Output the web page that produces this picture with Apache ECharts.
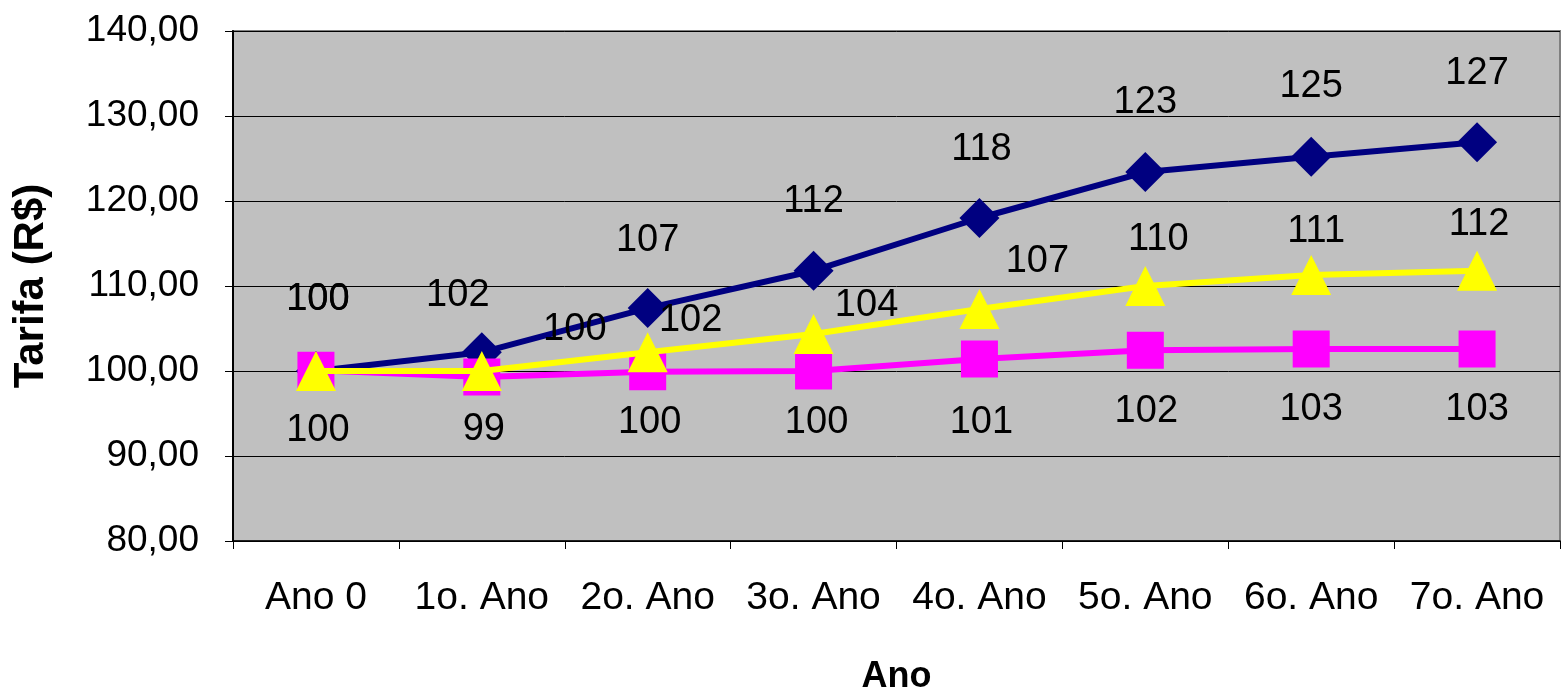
<!DOCTYPE html>
<html>
<head>
<meta charset="utf-8">
<script src="https://cdn.jsdelivr.net/npm/echarts@6/dist/echarts.min.js"></script>
<style>
html,body{margin:0;padding:0;background:#fff;}
#chart{width:1565px;height:693px;}
</style>
</head>
<body>
<div id="chart"></div>
<script>
const categories = ['Ano 0', '1o. Ano', '2o. Ano', '3o. Ano', '4o. Ano', '5o. Ano', '6o. Ano', '7o. Ano'];
const navyValues = [100, 102.2, 107.4, 111.8, 118.0, 123.4, 125.2, 126.9];
const magentaValues = [100.1, 99.3, 99.9, 100.0, 101.4, 102.45, 102.6, 102.6];
const yellowValues = [100, 100, 102.2, 104.35, 107.3, 110.0, 111.3, 111.8];
const yAxisMin = 80, yAxisMax = 140, yAxisInterval = 10;

// label placement (style only)
const navyOffsets = [[2,-71],[-24,-57],[0,-68],[0,-69],[2,-68],[0,-70],[0,-70],[0,-69]];
const yellowOffsets = [[2,-71],[93,-41],[43,-32],[53,-29],[58,-47],[13,-46],[5,-43],[2,-46]];
const magentaOffsets = [[2,60],[2,53],[2,51],[3,52],[2,63],[1,61],[0,61],[0,61]];

const FONT = '"Liberation Sans", Arial, sans-serif';

function series(name, values, offsets, color, symbol, size, z) {
  return {
    name: name,
    type: 'line',
    data: values,
    symbol: symbol,
    symbolSize: size,
    z: z,
    lineStyle: { color: color, width: 6 },
    itemStyle: { color: color },
    label: {
      show: true,
      position: 'inside',
      color: '#000',
      fontFamily: FONT,
      fontSize: 38,
      formatter: p => String(Math.round(p.value))
    },
    labelLayout: function (params) {
      const o = offsets[params.dataIndex];
      return { dx: o[0], dy: o[1], hideOverlap: false };
    },
    emphasis: { disabled: true },
    animation: false
  };
}

const chart = echarts.init(document.getElementById('chart'), null, { renderer: 'canvas' });
chart.setOption({
  backgroundColor: '#ffffff',
  animation: false,
  grid: {
    left: 233, right: 5, top: 31, bottom: 152,
    containLabel: false,
    outerBoundsMode: 'none',
    show: true,
    backgroundColor: '#C0C0C0',
    borderColor: '#808080',
    borderWidth: 2
  },
  xAxis: {
    type: 'category',
    data: categories,
    boundaryGap: true,
    name: 'Ano',
    nameLocation: 'middle',
    nameGap: 118,
    nameTextStyle: { fontFamily: FONT, fontSize: 36, fontWeight: 'bold', color: '#000' },
    axisLine: { show: true, lineStyle: { color: '#000', width: 1.5 } },
    axisTick: { show: true, length: 8, alignWithLabel: false, lineStyle: { color: '#000' } },
    axisLabel: { fontFamily: FONT, fontSize: 39, color: '#000', margin: 38, interval: 0 },
    splitLine: { show: false }
  },
  yAxis: {
    type: 'value',
    min: yAxisMin, max: yAxisMax, interval: yAxisInterval,
    name: 'Tarifa (R$)',
    nameLocation: 'middle',
    nameGap: 181,
    nameRotate: 90,
    nameTextStyle: { fontFamily: FONT, fontSize: 42, fontWeight: 'bold', color: '#000' },
    axisLine: { show: true, lineStyle: { color: '#000', width: 2 } },
    axisTick: { show: true, length: 8, lineStyle: { color: '#000' } },
    axisLabel: {
      fontFamily: FONT, fontSize: 37, color: '#000', margin: 34,
      formatter: v => v.toFixed(2).replace('.', ',')
    },
    splitLine: { show: true, lineStyle: { color: '#000', width: 1 } }
  },
  series: [
    series('Navy', navyValues, navyOffsets, '#000080', 'diamond', 40, 2),
    series('Magenta', magentaValues, magentaOffsets, '#FF00FF', 'rect', 37, 3),
    series('Yellow', yellowValues, yellowOffsets, '#FFFF00', 'triangle', 40, 4)
  ]
});
</script>
</body>
</html>
